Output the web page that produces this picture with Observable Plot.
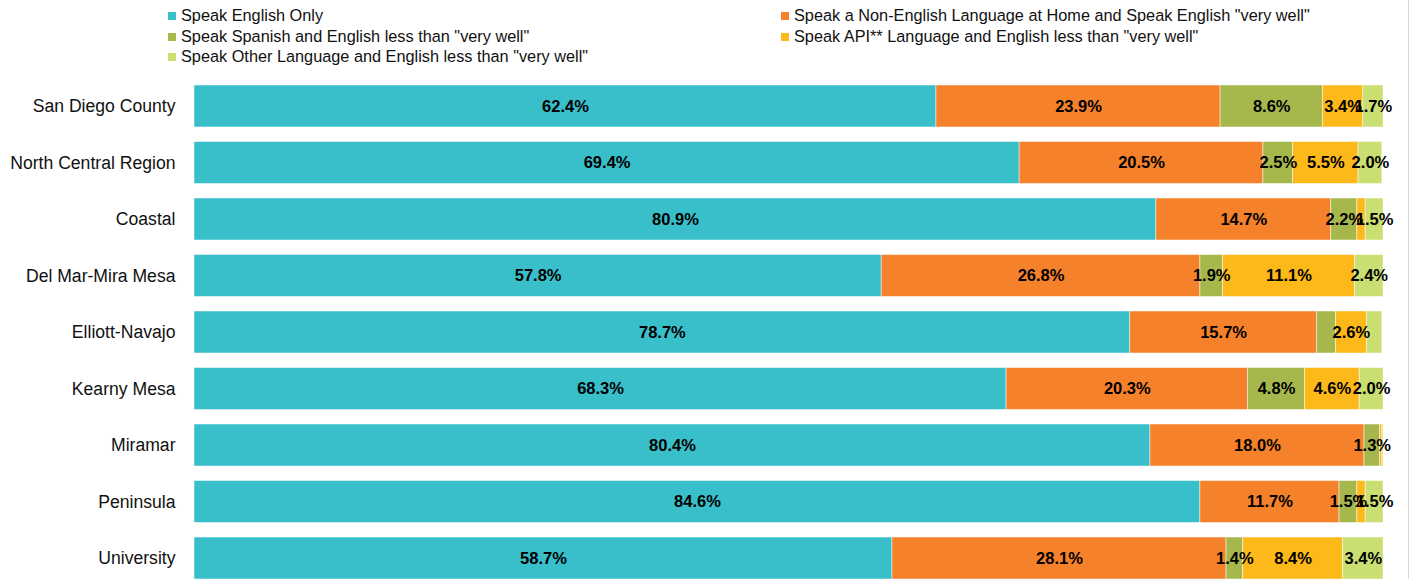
<!DOCTYPE html>
<html>
<head>
<meta charset="utf-8">
<script src="https://cdn.jsdelivr.net/npm/d3@7"></script>
<script src="https://cdn.jsdelivr.net/npm/@observablehq/plot@0.6"></script>
<style>
  html, body { margin: 0; padding: 0; background: #fff; }
  body { width: 1413px; height: 579px; position: relative; overflow: hidden; font-family: "Liberation Sans", Arial, sans-serif; }
  #legend { position: absolute; left: 0; top: 0; width: 1413px; height: 70px; }
  .li { position: absolute; font-size: 16.3px; color: #111; white-space: nowrap; line-height: 20px; }
  .sw { display: inline-block; width: 8px; height: 8px; margin-right: 5px; vertical-align: 1px; }
  #chart { position: absolute; left: 0; top: 70px; }
  #frame { position: absolute; left: 1408px; top: 0; width: 1px; height: 579px; background: #d9d9d9; }
</style>
</head>
<body>
<div id="legend"></div>
<div id="chart"></div>
<div id="frame"></div>
<script>
const regions = ["San Diego County", "North Central Region", "Coastal", "Del Mar-Mira Mesa", "Elliott-Navajo", "Kearny Mesa", "Miramar", "Peninsula", "University"];
const seriesNames = [
  "Speak English Only",
  "Speak a Non-English Language at Home and Speak English \"very well\"",
  "Speak Spanish and English less than \"very well\"",
  "Speak API** Language and English less than \"very well\"",
  "Speak Other Language and English less than \"very well\""
];
const englishOnly   = [62.4, 69.4, 80.9, 57.8, 78.7, 68.3, 80.4, 84.6, 58.7];
const nonEnglishWell = [23.9, 20.5, 14.7, 26.8, 15.7, 20.3, 18.0, 11.7, 28.1];
const spanishLess   = [8.6, 2.5, 2.2, 1.9, 1.6, 4.8, 1.3, 1.5, 1.4];
const apiLess       = [3.4, 5.5, 0.7, 11.1, 2.6, 4.6, 0.2, 0.7, 8.4];
const otherLess     = [1.7, 2.0, 1.5, 2.4, 1.3, 2.0, 0.1, 1.5, 3.4];
// segments whose value label is not shown in the original
const unlabeled = [["Coastal", 3], ["Elliott-Navajo", 2], ["Elliott-Navajo", 4], ["Miramar", 3], ["Miramar", 4], ["Peninsula", 3]];
const colors = ["#38BFCA", "#F5812A", "#A6B84B", "#FDB819", "#CADF72"];

const seriesValues = [englishOnly, nonEnglishWell, spanishLess, apiLess, otherLess];
const rows = [];
regions.forEach((r, i) => {
  seriesValues.forEach((vals, s) => {
    const hide = unlabeled.some(([rr, ss]) => rr === r && ss === s);
    rows.push({region: r, series: seriesNames[s], si: s, value: vals[i], label: hide ? "" : vals[i].toFixed(1) + "%"});
  });
});

// Legend
const legend = document.getElementById("legend");
const legendPos = [[168, 5], [781, 5], [168, 25.5], [781, 25.5], [168, 46]];
seriesNames.forEach((name, i) => {
  const d = document.createElement("div");
  d.className = "li";
  d.style.left = legendPos[i][0] + "px";
  d.style.top = legendPos[i][1] + "px";
  const sw = document.createElement("span");
  sw.className = "sw";
  sw.style.background = colors[i];
  d.appendChild(sw);
  d.appendChild(document.createTextNode(name));
  legend.appendChild(d);
});

const chart = Plot.plot({
  width: 1413,
  height: 509,
  marginLeft: 194,
  marginRight: 30,
  marginTop: 15,
  marginBottom: 0,
  style: {fontFamily: "'Liberation Sans', Arial, sans-serif", background: "transparent"},
  x: {domain: [0, 100], axis: null},
  y: {domain: regions, paddingInner: 0.257, paddingOuter: 0, round: false, label: null},
  color: {domain: seriesNames, range: colors},
  marks: [
    Plot.barX(rows, Plot.stackX({x: "value", y: "region", fill: "series", z: "series", stroke: "#ffffff", strokeOpacity: 0.6, strokeWidth: 0.8})),
    Plot.text(rows, Plot.stackX({x: "value", y: "region", z: "series", text: "label", fill: "#000", fontWeight: "bold", fontSize: 16.5})),
    Plot.axisY({tickSize: 0, tickPadding: 19, fontSize: 17.6, fill: "#111", label: null})
  ]
});
document.getElementById("chart").appendChild(chart);
</script>
</body>
</html>
